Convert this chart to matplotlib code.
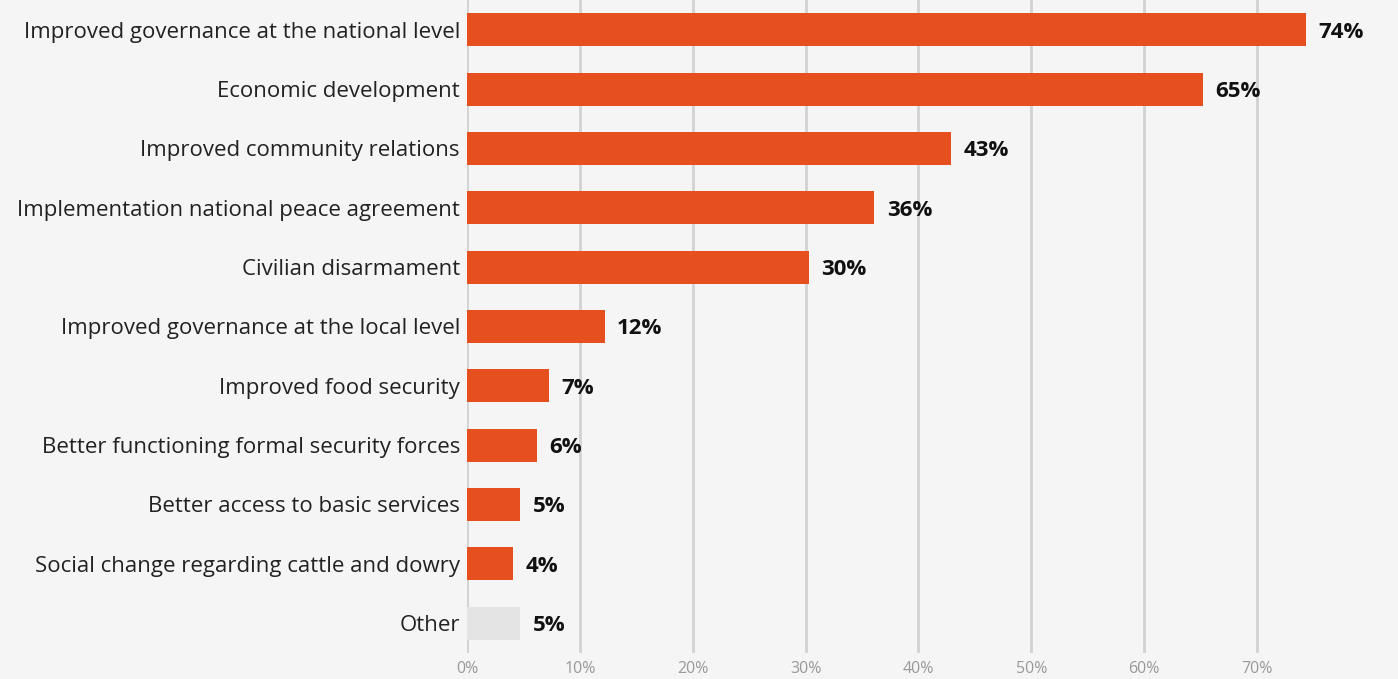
import matplotlib
matplotlib.use('Agg')
import matplotlib.pyplot as plt

categories = ['Improved governance at the national level', 'Economic development',
              'Improved community relations', 'Implementation national peace agreement',
              'Civilian disarmament', 'Improved governance at the local level',
              'Improved food security', 'Better functioning formal security forces',
              'Better access to basic services', 'Social change regarding cattle and dowry',
              'Other']
values = [74.3, 65.2, 42.9, 36.1, 30.3, 12.2, 7.3, 6.2, 4.7, 4.1, 4.7]
labels = ['74%', '65%', '43%', '36%', '30%', '12%', '7%', '6%', '5%', '4%', '5%']
ticks = [0, 10, 20, 30, 40, 50, 60, 70]

plt.rcParams['font.family'] = ['Open Sans', 'DejaVu Sans']

fig = plt.figure(figsize=(13.98, 6.79), dpi=100, facecolor='#f5f5f5')
ax = fig.add_axes([0.334, 0.0387, 0.646, 0.9613])
ax.set_facecolor('#f5f5f5')

colors = ['#e6501e'] * (len(values) - 1) + ['#e4e4e4']
ypos = list(range(len(values)))
ax.barh(ypos, values, height=0.556, color=colors, zorder=3)
for y, v, lab in zip(ypos, values, labels):
    ax.text(v + 1.1, y, lab, va='center_baseline', ha='left', fontsize=16,
            fontweight='bold', color='#111111')

ax.set_ylim(len(values) - 0.5, -0.5)
ax.set_xlim(0, 80)
ax.set_yticks(ypos)
ax.set_yticklabels(categories, fontsize=16, color='#222222', va='center_baseline')
ax.set_xticks(ticks)
ax.set_xticklabels([f'{t}%' for t in ticks], fontsize=11.5, color='#999999')
ax.tick_params(axis='both', length=0)
ax.tick_params(axis='y', pad=5)
ax.tick_params(axis='x', pad=6)
ax.grid(axis='x', color='#d2d2d2', linewidth=2, zorder=0)
for s in ax.spines.values():
    s.set_visible(False)

fig.savefig('out.png', dpi=100, facecolor=fig.get_facecolor())
